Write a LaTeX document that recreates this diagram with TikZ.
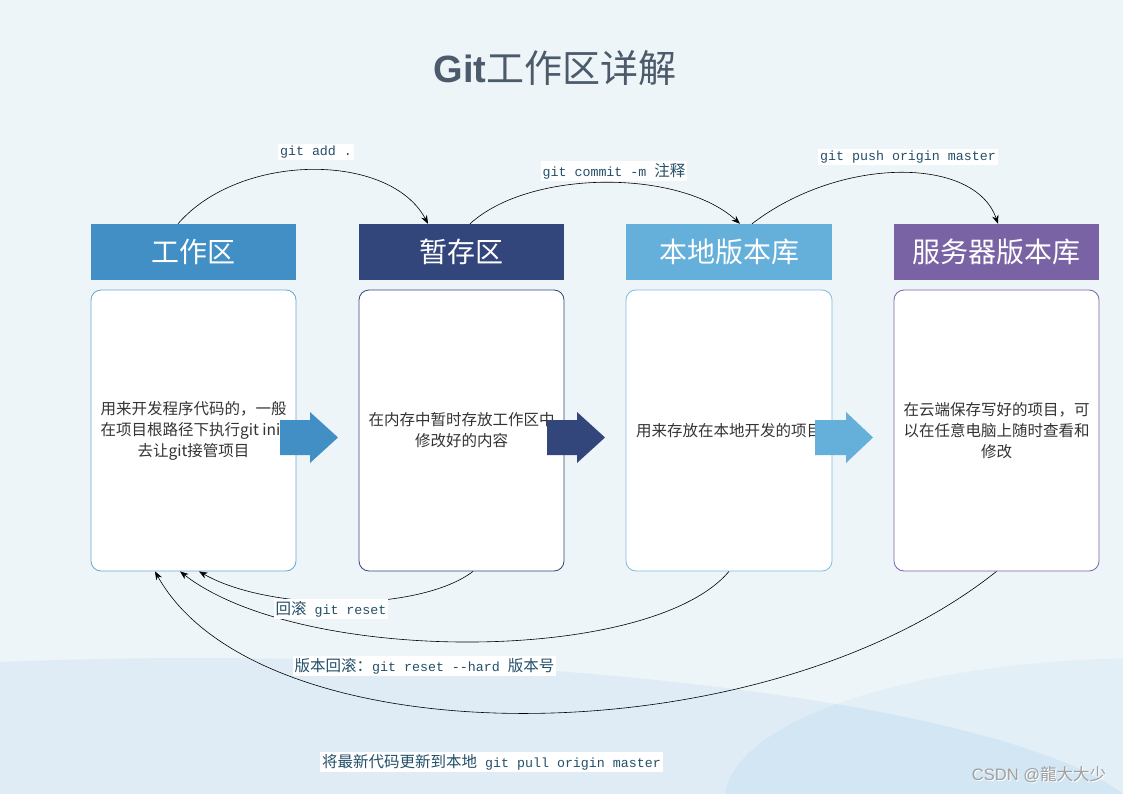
\documentclass[tikz,border=0pt]{standalone}
\usepackage{fontspec}
\setmainfont{Noto Sans CJK SC}
\newfontfamily\cjk{Noto Sans CJK SC}
\newfontfamily\monof{Liberation Mono}
\newfontfamily\arialf{Liberation Sans}
\usetikzlibrary{arrows.meta}
\definecolor{bgc}{HTML}{EEF5F9}
\definecolor{wavec}{HTML}{DFECF5}
\definecolor{ellc}{HTML}{E3EFF7}
\definecolor{overc}{HTML}{D3E6F3}
\definecolor{cA}{HTML}{428FC5}
\definecolor{cB}{HTML}{33467B}
\definecolor{cC}{HTML}{65AFDB}
\definecolor{cD}{HTML}{7A63A5}
\definecolor{bA}{HTML}{6AA8D2}
\definecolor{bC}{HTML}{80BCE0}
\definecolor{txtc}{HTML}{333333}
\definecolor{lblc}{HTML}{24506A}
\definecolor{titlec}{HTML}{4B5B6B}
\newcommand\zhtxt[1]{{\cjk\fontsize{15.5}{16}\selectfont #1}}
\begin{document}
\begin{tikzpicture}[x=1pt,y=-1pt,
  headbox/.style={minimum width=205pt, minimum height=56pt, inner sep=0pt, text=white, font=\fontsize{28}{30}\selectfont},
  bodybox/.style={draw, fill=white, rounded corners=10pt, minimum width=205pt, minimum height=281pt, line width=0.8pt, text=txtc, align=center, inner sep=0pt, font=\fontsize{15.5}{21}\selectfont},
  lbl/.style={fill=white, inner sep=2pt, text=lblc, font=\monof\fontsize{13.3}{15}\selectfont},
  con/.style={-{Stealth[length=8.5pt,width=6.5pt]}, line width=0.6pt, black}]
\useasboundingbox (0,0) rectangle (1123,794);
% background
\fill[bgc] (0,0) rectangle (1123,794);
\begin{scope}
  \clip (0,0) rectangle (1123,794);
  \fill[wavec] (200,838) ellipse [x radius=952, y radius=180];
  \fill[ellc] (1150,800) ellipse [x radius=425, y radius=142];
  \clip (200,838) ellipse [x radius=952, y radius=180];
  \fill[overc] (1150,800) ellipse [x radius=425, y radius=142];
\end{scope}
% title
\node[text=titlec, font=\fontsize{38}{40}\selectfont] (title) at (555,68) {{\arialf\bfseries Git}工作区详解};
% headers
\node[headbox, fill=cA] (h1) at (193.5,252) {工作区};
\node[headbox, fill=cB] (h2) at (461.5,252) {暂存区};
\node[headbox, fill=cC, minimum width=206pt] (h3) at (729,252) {本地版本库};
\node[headbox, fill=cD] (h4) at (996.5,252) {服务器版本库};
% bodies
\node[bodybox, draw=bA] (b1) at (193.5,430.5) {用来开发程序代码的，一般\\在项目根路径下执行git init\\去让git接管项目};
\node[bodybox, draw=cB] (b2) at (461.5,430.5) {在内存中暂时存放工作区中\\修改好的内容};
\node[bodybox, draw=bC, minimum width=206pt] (b3) at (729,430.5) {用来存放在本地开发的项目};
\node[bodybox, draw=cD] (b4) at (996.5,430.5) {在云端保存写好的项目，可\\以在任意电脑上随时查看和\\修改};
% block arrows
\fill[cA] (280,420) -- (310,420) -- (310,412) -- (338,437.5) -- (310,463) -- (310,455) -- (280,455) -- cycle;
\fill[cB] (547,420) -- (577,420) -- (577,412) -- (605,437.5) -- (577,463) -- (577,455) -- (547,455) -- cycle;
\fill[cC] (815,420) -- (846,420) -- (846,412) -- (873,437.5) -- (846,463) -- (846,455) -- (815,455) -- cycle;
% top connectors
\draw[con] ([xshift=-15.5pt]h1.north) .. controls (240,152) and (390,152) .. ([xshift=-33.5pt]h2.north);
\draw[con] ([xshift=8.5pt]h2.north) .. controls (530,169) and (680,169) .. ([xshift=11pt]h3.north);
\draw[con] ([xshift=23pt]h3.north) .. controls (840,156) and (975,156) .. ([xshift=1.5pt]h4.north);
% bottom connectors
\draw[con] ([xshift=11.5pt]b2.south) .. controls (420,612) and (270,612) .. ([xshift=5.5pt]b1.south);
\draw[con] (b3.south) .. controls (650,665) and (300,665) .. ([xshift=-13.5pt]b1.south);
\draw[con] (b4.south) .. controls (760,760) and (260,760) .. ([xshift=-38.5pt]b1.south);
% labels
\node[lbl] (l1) at (316,152) {git add .};
\node[lbl] (l2) at (614,171) {git commit -m \zhtxt{注释}};
\node[lbl] (l3) at (908,157) {git push origin master};
\node[lbl] (l4) at (331,609) {\zhtxt{回滚} git reset\ };
\node[lbl] (l5) at (424.5,666) {\zhtxt{版本回滚：}git reset --hard \zhtxt{版本号}};
\node[lbl] (l6) at (491.5,762) {\zhtxt{将最新代码更新到本地} git pull origin master};
% watermark
\node[text=white, font=\arialf\fontsize{16.5}{17}\selectfont] (wms) at (1040,776) {CSDN @{\cjk 龍大大少}};
\node[text=gray!75, font=\arialf\fontsize{16.5}{17}\selectfont] (wm) at (1039,775) {CSDN @{\cjk 龍大大少}};
\end{tikzpicture}
\end{document}
